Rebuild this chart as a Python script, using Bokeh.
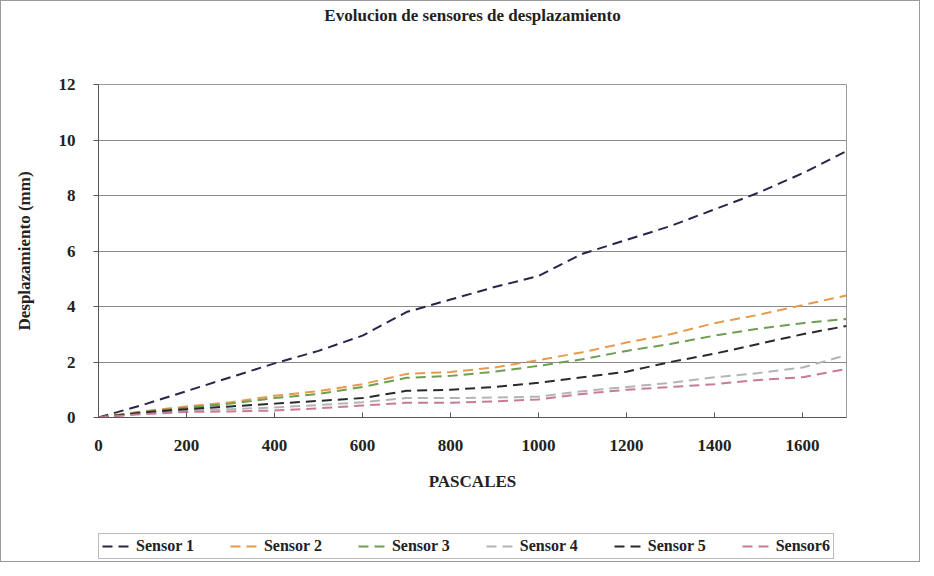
from bokeh.plotting import figure
from bokeh.layouts import column
from bokeh.models import Legend, LegendItem, Range1d, FixedTicker, Label
from bokeh.embed import file_html
from bokeh.resources import INLINE

pascales = [0, 100, 200, 300, 400, 500, 600, 700, 800, 900, 1000, 1100, 1200, 1300, 1400, 1500, 1600, 1700]
sensor1 = [0.0, 0.45, 0.95, 1.45, 1.95, 2.4, 2.95, 3.8, 4.25, 4.7, 5.1, 5.9, 6.4, 6.9, 7.5, 8.1, 8.8, 9.6]
sensor2 = [0.0, 0.22, 0.4, 0.55, 0.78, 0.95, 1.2, 1.57, 1.64, 1.8, 2.07, 2.35, 2.7, 3.0, 3.4, 3.7, 4.05, 4.4]
sensor3 = [0.0, 0.2, 0.35, 0.5, 0.7, 0.85, 1.1, 1.43, 1.5, 1.65, 1.86, 2.1, 2.4, 2.65, 2.95, 3.2, 3.4, 3.55]
sensor4 = [0.0, 0.15, 0.25, 0.3, 0.36, 0.45, 0.55, 0.7, 0.7, 0.72, 0.75, 0.95, 1.1, 1.25, 1.45, 1.6, 1.8, 2.25]
sensor5 = [0.0, 0.18, 0.3, 0.4, 0.5, 0.6, 0.7, 0.96, 1.0, 1.1, 1.25, 1.45, 1.65, 2.0, 2.3, 2.65, 3.0, 3.3]
sensor6 = [0.0, 0.12, 0.2, 0.22, 0.25, 0.33, 0.43, 0.53, 0.53, 0.58, 0.65, 0.85, 1.0, 1.1, 1.2, 1.35, 1.45, 1.75]

names = ["Sensor 1", "Sensor 2", "Sensor 3", "Sensor 4", "Sensor 5", "Sensor6"]
series = [sensor1, sensor2, sensor3, sensor4, sensor5, sensor6]
colors = ["#26264a", "#e79a4a", "#6f9e52", "#b4b4b4", "#2a2a2a", "#c97a9a"]

title_text = "Evolucion de sensores de desplazamiento"
x_ticks = [0, 200, 400, 600, 800, 1000, 1200, 1400, 1600]
y_ticks = [0, 2, 4, 6, 8, 10, 12]

FONT = "Liberation Serif"
DASH = "10 6"


def strip(height):
    f = figure(width=918, height=height, output_backend="svg", toolbar_location=None,
               x_range=Range1d(0, 1), y_range=Range1d(0, 1),
               x_axis_type=None, y_axis_type=None,
               min_border_left=0, min_border_right=0, min_border_top=0, min_border_bottom=0)
    f.grid.grid_line_color = None
    f.outline_line_color = None
    f.background_fill_color = "white"
    f.border_fill_color = "white"
    return f


# title strip
p0 = strip(28)
p0.add_layout(Label(x=0.5, y=0.5, text=title_text, text_align="center", text_baseline="middle",
                    text_font=FONT, text_font_size="17px", text_font_style="bold",
                    text_color="#222222"))

# main chart
p = figure(width=918, height=492, output_backend="svg", toolbar_location=None,
           x_range=Range1d(0, 1700), y_range=Range1d(0, 12),
           min_border_left=97, min_border_right=73, min_border_top=55, min_border_bottom=104)

p.outline_line_color = "#9a9a9a"
p.background_fill_color = "white"
p.border_fill_color = "white"

p.xgrid.grid_line_color = None
p.ygrid.grid_line_color = "#8a8a8a"
p.ygrid.grid_line_width = 1

p.xaxis.ticker = FixedTicker(ticks=x_ticks)
p.yaxis.ticker = FixedTicker(ticks=y_ticks)
p.xaxis.minor_tick_line_color = None
p.yaxis.minor_tick_line_color = None

for ax in (p.xaxis[0], p.yaxis[0]):
    ax.axis_line_color = "#555555"
    ax.major_tick_line_color = "#555555"
    ax.major_label_text_font = FONT
    ax.major_label_text_font_size = "17px"
    ax.major_label_text_font_style = "bold"
    ax.major_label_text_color = "#222222"
    ax.axis_label_text_font = FONT
    ax.axis_label_text_font_size = "17px"
    ax.axis_label_text_font_style = "bold"
    ax.axis_label_text_color = "#222222"

p.xaxis.axis_label = "PASCALES"
p.xaxis.major_tick_in = 5
p.xaxis.major_tick_out = 0
p.xaxis.major_label_standoff = 22
p.xaxis.axis_label_standoff = 18

p.yaxis.axis_label = "Desplazamiento (mm)"
p.yaxis.major_tick_in = 0
p.yaxis.major_tick_out = 5
p.yaxis.major_label_standoff = 18
p.yaxis.axis_label_standoff = 22

for ys, c in zip(series, colors):
    p.line(pascales, ys, line_color=c, line_width=2, line_dash=DASH)

# legend strip below the chart (same series, drawn outside its visible range)
p2 = strip(40)
p2.x_range = Range1d(-20, -10)
p2.y_range = Range1d(-20, -10)

items = []
for name, ys, c in zip(names, series, colors):
    r = p2.line(pascales, ys, line_color=c, line_width=2, line_dash=DASH)
    items.append(LegendItem(label=name, renderers=[r]))

legend = Legend(items=items, orientation="horizontal", location=(0, 2))
legend.label_text_font = FONT
legend.label_text_font_size = "16px"
legend.label_text_font_style = "bold"
legend.label_text_color = "#222222"
legend.label_height = 16
legend.glyph_height = 16
legend.glyph_width = 30
legend.label_standoff = 4
legend.spacing = 36
legend.padding = 3
legend.margin = 0
legend.border_line_color = "#777777"
legend.background_fill_color = "white"
p2.add_layout(legend, "center")

layout = column(p0, p, p2, spacing=0)
layout.styles = {"border": "1px solid #9a9a9a"}

open("out.html", "w").write(file_html(layout, INLINE))
